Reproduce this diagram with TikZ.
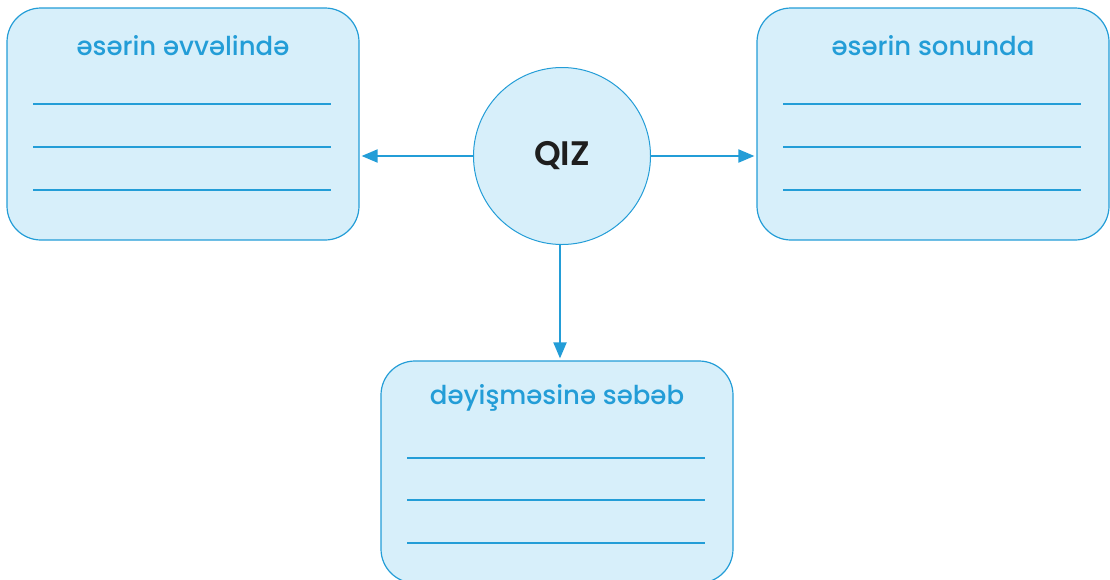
\documentclass[tikz,border=0pt]{standalone}
\usepackage{fontspec}
\setmainfont{Poppins}
\newfontfamily\headfont{Poppins Medium}
\newfontfamily\qizfont{Poppins SemiBold}
\usetikzlibrary{arrows.meta}

\definecolor{qblue}{RGB}{35,157,215}
\definecolor{qfill}{RGB}{215,239,250}
\definecolor{qtext}{RGB}{30,30,30}

\begin{document}
\begin{tikzpicture}
  [x=1pt, y=-1pt,
    box/.style={draw=qblue, fill=qfill, rounded corners=34pt, line width=1.2pt,
      minimum width=352pt, minimum height=232pt, inner sep=0pt},
    heading/.style={text=qblue, font=\headfont\fontsize{26}{30}\selectfont},
    writeline/.style={draw=qblue, line width=2.2pt},
    arr/.style={draw=qblue, line width=2pt, -{Triangle[length=16pt, width=13pt]}, shorten >=2pt},
  ]
  \useasboundingbox (0,0) rectangle (1110,579);

  % boxes
  \node[box] (start) at (183,124) {};
  \node[box] (finish) at (933,124) {};
  \node[box, minimum height=222pt] (reason) at (557,472) {};

  \node[heading] (starttitle) at (183,46) {əsərin əvvəlində};
  \node[heading] (finishtitle) at (933,46) {əsərin sonunda};
  \node[heading] (reasontitle) at (557,398) {dəyişməsinə səbəb};

  \foreach \y in {104,147,190} {
    \draw[writeline] (33,\y) -- (331,\y);
    \draw[writeline] (783,\y) -- (1081,\y);
  }
  \foreach \y in {458,500,543}
    \draw[writeline] (407,\y) -- (705,\y);

  % centre
  \node[circle, draw=qblue, fill=qfill, line width=1pt, minimum size=177pt,
    text=qtext, font=\qizfont\fontsize{34}{40}\selectfont] (qiz) at (562,156) {QIZ};

  \draw[arr] (qiz.west) -- (qiz.west -| start.east);
  \draw[arr] (qiz.east) -- (qiz.east -| finish.west);
  \draw[arr] (qiz.south -| 560,0) -- (560,0 |- reason.north);
\end{tikzpicture}
\end{document}
